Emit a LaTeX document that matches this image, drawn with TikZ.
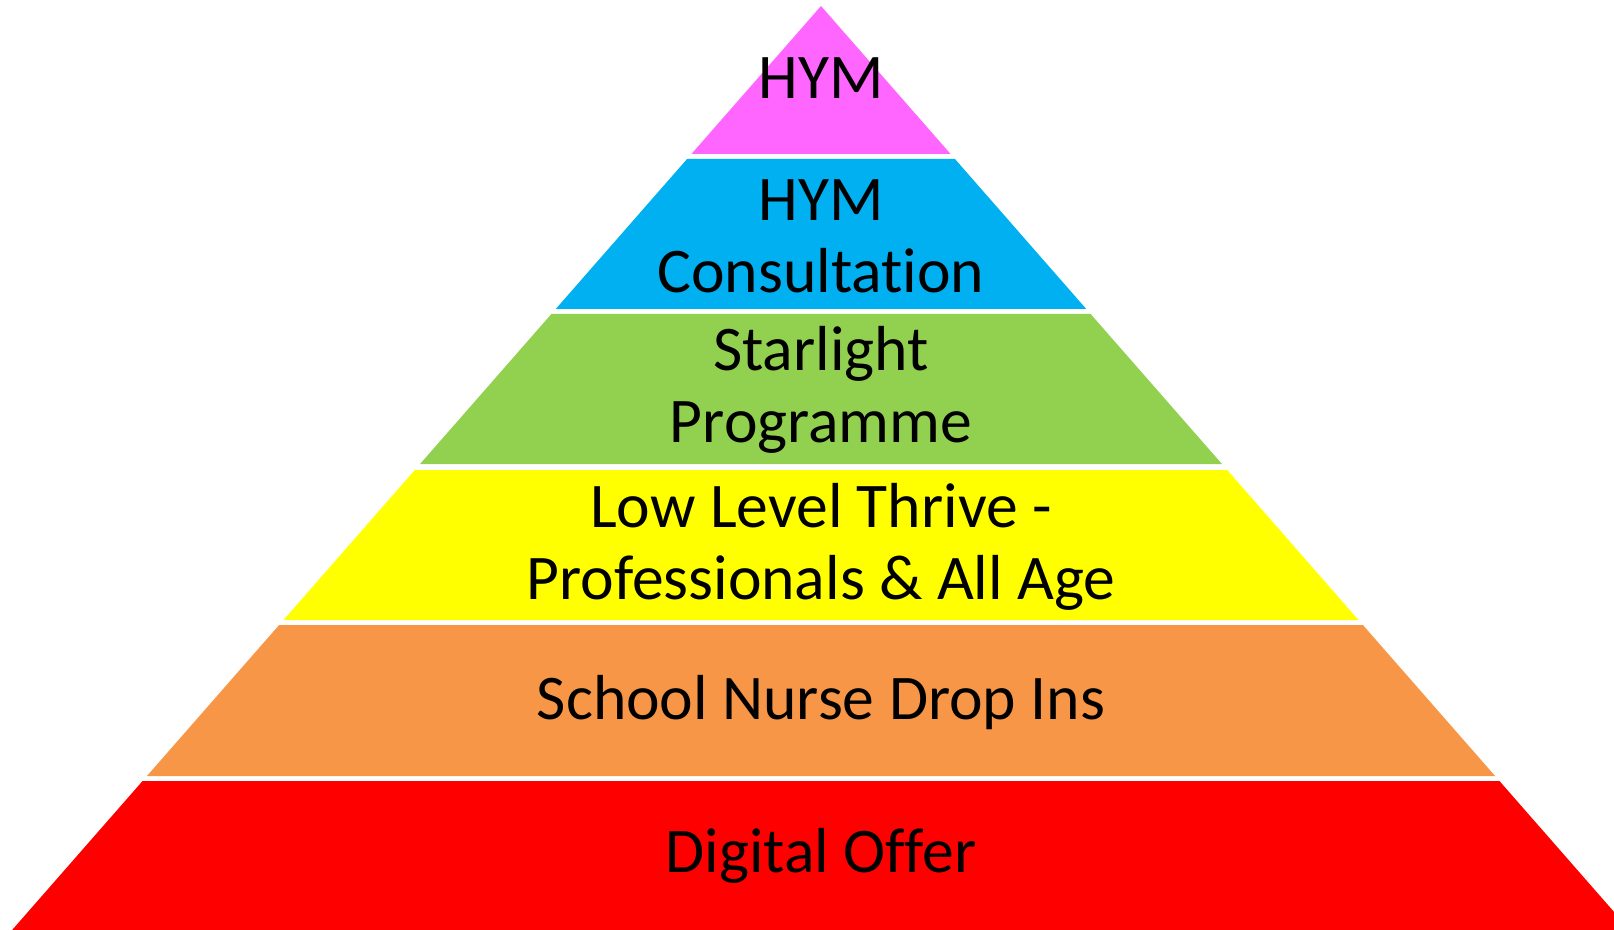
\documentclass[tikz,border=0pt]{standalone}
\usepackage{fontspec}
\setmainfont{Carlito}[Ligatures=NoCommon]
\usepackage{xcolor}
\usepackage{tikz}
\usetikzlibrary{positioning}

\definecolor{hymPink}{HTML}{FF66FF}
\definecolor{hymBlue}{HTML}{00B0F0}
\definecolor{starGreen}{HTML}{92D050}
\definecolor{thriveYellow}{HTML}{FFFF00}
\definecolor{nurseOrange}{HTML}{F79646}
\definecolor{digitalRed}{HTML}{FF0000}

\begin{document}
\begin{tikzpicture}[
    tier/.style={font=\fontsize{18.1}{20.5}\selectfont, align=center, inner sep=0pt}
]
\useasboundingbox (0,0) rectangle (16.14,9.29);
\clip (0,0) rectangle (16.14,9.29);

% pyramid layers: top edge / bottom edge / fill
\foreach \ytop/\ybot/\col in {9.23/7.75/hymPink, 7.70/6.20/hymBlue, 6.15/4.65/starGreen,
                              4.59/3.09/thriveYellow, 3.04/1.53/nurseOrange, 1.48/-0.10/digitalRed}
    \fill[\col] ({8.21-0.8754*(9.23-\ytop)},\ytop) -- ({8.21+0.8754*(9.23-\ytop)},\ytop)
        -- ({8.21+0.8754*(9.23-\ybot)},\ybot) -- ({8.21-0.8754*(9.23-\ybot)},\ybot) -- cycle;

\node[tier] (hym) at (8.21,8.51) {HYM};
\node[tier] (consult) at (8.21,6.93) {HYM\\Consultation};
\node[tier] (starlight) at (8.21,5.39) {Starlight\\Programme};
\node[tier] (thrive) at (8.21,3.82) {Low Level Thrive -\\Professionals \& All Age};
\node[tier] (nurse) at (8.21,2.265) {School Nurse Drop Ins};
\node[tier] (digital) at (8.21,0.73) {Digital Offer};
\end{tikzpicture}
\end{document}
